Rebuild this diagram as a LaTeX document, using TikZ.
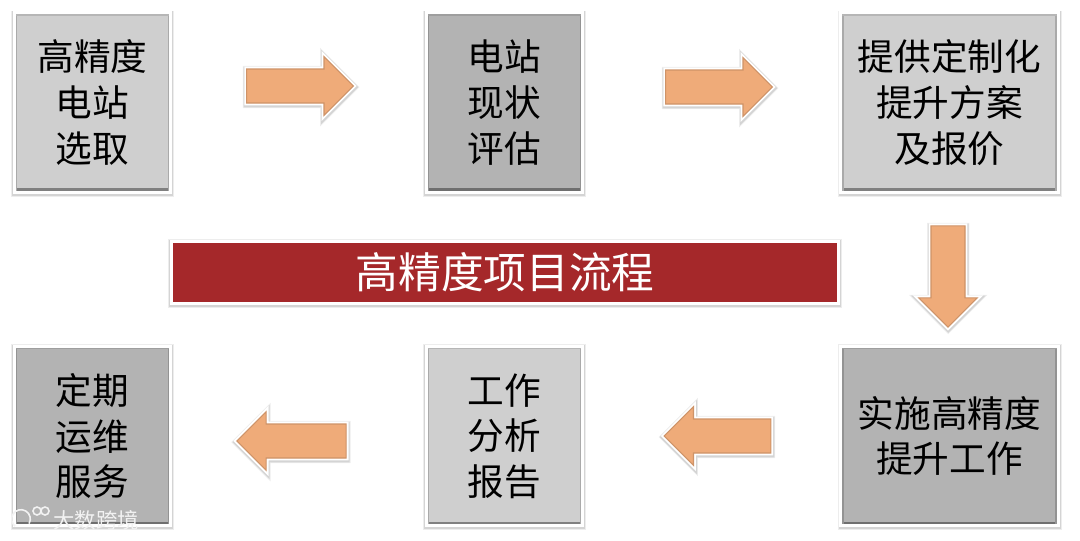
\documentclass[tikz,border=0pt]{standalone}
\usepackage{fontspec}
\setmainfont{Noto Sans CJK SC}
\usetikzlibrary{shapes.arrows}
\definecolor{boxlight}{HTML}{CFCFCF}
\definecolor{boxdark}{HTML}{B3B3B3}
\definecolor{titlered}{HTML}{A5282A}
\definecolor{arrowfill}{HTML}{EFAB79}
\tikzset{
    softshadow/.style={
        preaction={draw=black,draw opacity=0.07,fill=none,line width=#1+2.6pt,transform canvas={xshift=0.2pt,yshift=-0.8pt}},
        preaction={draw=black,draw opacity=0.10,fill=none,line width=#1+1.3pt,transform canvas={xshift=0.2pt,yshift=-0.8pt}}
    },
    bevel/.style={path picture={
        \fill[#1!62!black] ([yshift=3pt]path picture bounding box.south west) rectangle (path picture bounding box.south east);
        \fill[#1!82!black] ([xshift=-2.2pt]path picture bounding box.north east) rectangle (path picture bounding box.south east);
        \fill[#1!82!black] (path picture bounding box.north west) rectangle ([xshift=2.2pt]path picture bounding box.south west);
        \fill[#1!88!black] (path picture bounding box.north west) rectangle ([yshift=-2pt]path picture bounding box.north east);
    }},
    stepbox/.style={draw=white,line width=2.4pt,softshadow=2.4pt,fill=#1,bevel=#1,align=center,inner sep=0pt,
        minimum height=134.5pt,font=\fontsize{27.5}{34.2}\selectfont,text=black},
    narrowbox/.style={stepbox=#1,minimum width=117pt},
    widebox/.style={stepbox=#1,minimum width=163pt},
    titlebar/.style={draw=white,line width=2.4pt,softshadow=2.4pt,fill=titlered,minimum width=500.5pt,minimum height=46.5pt,
        inner sep=0pt,font=\fontsize{32}{36}\selectfont,text=white},
    flowarrow/.style={shape=single arrow,draw=arrowfill!86!black,line width=0.8pt,softshadow=3.6pt,
        preaction={draw=white,fill=none,line width=3.6pt},fill=arrowfill,inner sep=12pt,
        minimum height=80pt,minimum width=44pt,single arrow head extend=9pt,single arrow tip angle=90},
    markfont/.style={text=white!90!gray,inner sep=0pt,font=\fontsize{16}{16}\selectfont},
    markline/.style={draw=white!90!gray,line width=1.2pt}
}
\begin{document}
\begin{tikzpicture}[x=0.75pt,y=-0.75pt]
    \useasboundingbox (0,0) rectangle (1080,540);
    \fill[white] (0,0) rectangle (1080,540);
    \node[narrowbox=boxlight] (select) at (92.5,102.5) {高精度\\电站\\选取};
    \node[narrowbox=boxdark] (assess) at (504.5,102.5) {电站\\现状\\评估};
    \node[widebox=boxlight] (plan) at (949.5,102.5) {提供定制化\\提升方案\\及报价};
    \node[widebox=boxdark] (work) at (949.5,436) {实施高精度\\提升工作};
    \node[narrowbox=boxlight] (report) at (504.5,436) {工作\\分析\\报告};
    \node[narrowbox=boxdark] (service) at (92.5,436) {定期\\运维\\服务};
    \node[titlebar] (title) at (505,272.5) {高精度项目流程};
    \node[flowarrow] (arrowa) at (291.5,86) {};
    \node[flowarrow] (arrowb) at (710.5,87) {};
    \node[flowarrow,shape border rotate=270,minimum height=76pt] (arrowc) at (948,268) {};
    \node[flowarrow,shape border rotate=180] (arrowd) at (726,436) {};
    \node[flowarrow,shape border rotate=180,minimum height=82pt] (arrowe) at (300,441) {};
    \node[markfont] (marktext) at (96,520) {大数跨境};
    \coordinate (markswirl) at (21,519);
    \coordinate (markloopa) at (37,511);
    \coordinate (markloopb) at (45,511);
    \draw[markline] (markswirl) ++(-30:7pt) arc (-30:230:7pt);
    \draw[markline] (markloopa) circle (3pt);
    \draw[markline] (markloopb) circle (3pt);
\end{tikzpicture}
\end{document}
